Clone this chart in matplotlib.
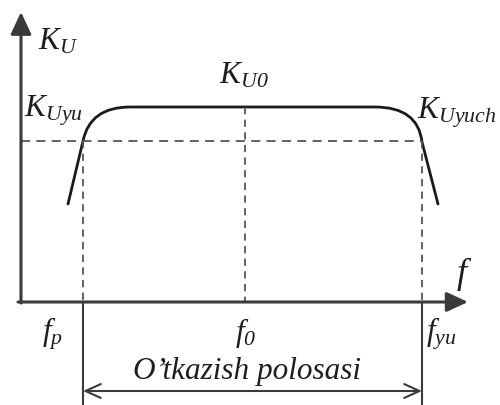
import matplotlib
matplotlib.use("Agg")
import matplotlib.pyplot as plt
from matplotlib.path import Path
from matplotlib.patches import PathPatch

plt.rcParams["mathtext.fontset"] = "custom"
plt.rcParams["mathtext.it"] = "Liberation Serif:italic"
plt.rcParams["mathtext.rm"] = "Liberation Serif:italic"
plt.rcParams["font.family"] = "Liberation Serif"

# Sxema koordinatalari (piksel birliklarida)
origin = (21, 303)
y_top = 13
x_right = 468
freq_pos = [83, 245, 422]          # f_p, f_0, f_yu
freq_labels = [r"$f_p$", r"$f_0$", r"$f_{yu}$"]
k_max = 108                        # K_U0 darajasi
k_cut = 142                        # K_Uyu / K_Uyuch darajasi

# AChX egri chizig'i: nuqtalar va Bezier boshqaruv nuqtalari
curve_x = [68, 83, 90, 130, 375, 418, 422, 438]
curve_y = [205, 142, 108, 108, 108, 108, 143, 205]
curve_codes = [Path.MOVETO, Path.LINETO, Path.CURVE3, Path.CURVE3,
               Path.LINETO, Path.CURVE3, Path.CURVE3, Path.LINETO]

fig = plt.figure(figsize=(5, 4.06), dpi=100)
ax = fig.add_axes([0, 0, 1, 1])
ax.set_xlim(0, 500)
ax.set_ylim(406, 0)
ax.axis("off")

axis_col = "#3a3a3a"
dash_col = "#555555"
txt_col = "#1e1e1e"

# o'qlar
ax.annotate("", xy=(origin[0], y_top), xytext=(origin[0], origin[1] + 1),
            arrowprops=dict(arrowstyle="-|>,head_length=13.5,head_width=6.3",
                            mutation_scale=1, lw=2.2, color=axis_col,
                            shrinkA=0, shrinkB=0))
ax.annotate("", xy=(x_right, origin[1]), xytext=(origin[0] - 3, origin[1]),
            arrowprops=dict(arrowstyle="-|>,head_length=13,head_width=6",
                            mutation_scale=1, lw=2.2, color=axis_col,
                            shrinkA=0, shrinkB=0))

# shtrixli chiziqlar
ax.plot([origin[0], freq_pos[2]], [k_cut, k_cut], ls=(0, (5, 3.5)),
        color=dash_col, lw=1.3)
ax.plot([freq_pos[0], freq_pos[0]], [k_cut, origin[1]], ls=(0, (4, 3)),
        color=dash_col, lw=1.3)
ax.plot([freq_pos[2], freq_pos[2]], [k_cut, origin[1]], ls=(0, (4, 3)),
        color=dash_col, lw=1.3)
ax.plot([freq_pos[1], freq_pos[1]], [k_max, origin[1]], ls=(0, (4, 3)),
        color=dash_col, lw=1.3)

# o'tkazish polosasi chegaralari
for xp in [freq_pos[0], freq_pos[2]]:
    ax.plot([xp, xp], [origin[1], 406], color=axis_col, lw=1.5)
ax.annotate("", xy=(freq_pos[0], 392), xytext=(freq_pos[2], 392),
            arrowprops=dict(arrowstyle="<->,head_length=11,head_width=5",
                            mutation_scale=1, lw=1.5, color=axis_col,
                            shrinkA=0, shrinkB=0))

# egri chiziq
path = Path(list(zip(curve_x, curve_y)), curve_codes)
ax.add_patch(PathPatch(path, fill=False, lw=2.0, color="#1a1a1a",
                       capstyle="round"))

fs = 22.5
ax.text(38, 50, r"$K_U$", fontsize=fs, color=txt_col, ha="left", va="baseline")
ax.text(219, 84, r"$K_{U0}$", fontsize=fs, color=txt_col, ha="left", va="baseline")
ax.text(24, 117, r"$K_{Uyu}$", fontsize=fs, color=txt_col, ha="left", va="baseline")
ax.text(417, 119, r"$K_{Uyuch}$", fontsize=fs, color=txt_col, ha="left", va="baseline")
ax.text(456, 283, r"$f$", fontsize=26, color=txt_col, ha="left", va="baseline")

label_x = [42, 235, 426]
for lx, lab in zip(label_x, freq_labels):
    ax.text(lx, 341, lab, fontsize=fs, color=txt_col, ha="left", va="baseline")

ax.text(133, 379, "O\u2019tkazish polosasi", fontsize=22.5, style="italic",
        color=txt_col, ha="left", va="baseline")

fig.savefig("out.png", dpi=100)
